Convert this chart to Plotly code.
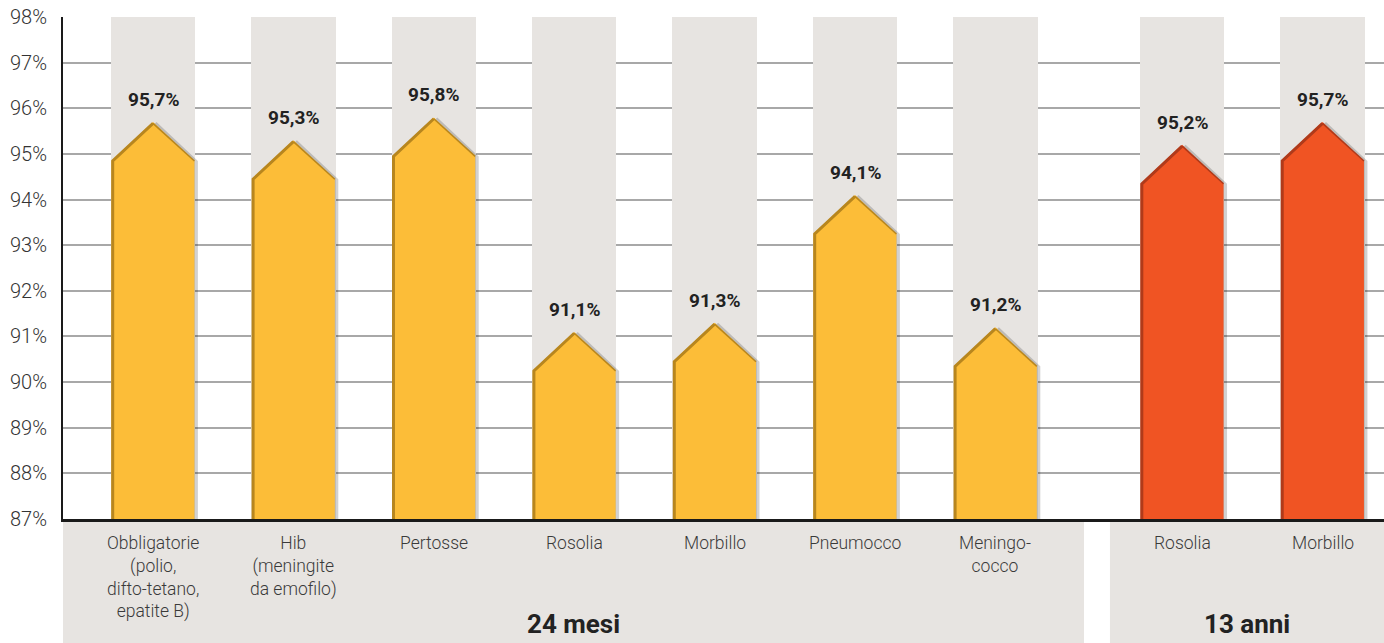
import plotly.graph_objects as go

# ---- data ----
categories = ["Obbligatorie<br>(polio,<br>difto-tetano,<br>epatite B)",
              "Hib<br>(meningite<br>da emofilo)",
              "Pertosse", "Rosolia", "Morbillo", "Pneumocco",
              "Meningo-<br>cocco",
              "Rosolia", "Morbillo"]
values = [95.7, 95.3, 95.8, 91.1, 91.3, 94.1, 91.2, 95.2, 95.7]
groups = ["24 mesi"] * 7 + ["13 anni"] * 2
group_names = ["24 mesi", "13 anni"]
y_ticks = list(range(87, 99))

# ---- style / layout constants ----
W, H = 1384, 643
ML, MR, MT, MB = 63, 0, 17, 124
Y0, Y1 = 87, 98
PX_PER_X = 140.4
X_LEFT = -0.641
GROUP_GAP = 0.33
BAR_W = 0.59
ROOF_PX = 39
plot_h = H - MT - MB
plot_w = W - ML - MR
x_range = [X_LEFT, X_LEFT + plot_w / PX_PER_X]
roof = ROOF_PX * (Y1 - Y0) / plot_h
shadow_dx = 3.5 / PX_PER_X

colors = {"24 mesi": "#FCBD38", "13 anni": "#F05423"}
edge_colors = {"24 mesi": "#B8861E", "13 anni": "#B03A1A"}

x_pos = [i + (GROUP_GAP if g == "13 anni" else 0) for i, g in enumerate(groups)]
labels = [f"{v:.1f}%".replace(".", ",") for v in values]

fig = go.Figure()

# grey background columns
fig.add_trace(go.Bar(x=x_pos, y=[Y1 - Y0] * len(x_pos), base=Y0, width=BAR_W + 0.01,
                     marker=dict(color="#E7E4E1", line=dict(width=0)),
                     hoverinfo="skip", showlegend=False))

for x, v, g in zip(x_pos, values, groups):
    l, r = x - BAR_W / 2, x + BAR_W / 2
    sh = v - roof
    # shadow
    fig.add_trace(go.Scatter(
        x=[l + shadow_dx, l + shadow_dx, x + shadow_dx, r + shadow_dx, r + shadow_dx, l + shadow_dx],
        y=[Y0, sh, v, sh, Y0, Y0], mode="lines", fill="toself",
        fillcolor="rgba(0,0,0,0.18)", line=dict(width=0),
        hoverinfo="skip", showlegend=False))
    # body
    fig.add_trace(go.Scatter(
        x=[l, l, x, r, r, l], y=[Y0, sh, v, sh, Y0, Y0], mode="lines", fill="toself",
        fillcolor=colors[g], line=dict(width=0), hoverinfo="skip", showlegend=False))
    # dark edges (3D look)
    fig.add_trace(go.Scatter(
        x=[l + 0.008, l + 0.008, x], y=[Y0, sh, v - 0.03], mode="lines",
        line=dict(color=edge_colors[g], width=3), hoverinfo="skip", showlegend=False))
    fig.add_trace(go.Scatter(
        x=[x, r], y=[v - 0.03, sh], mode="lines",
        line=dict(color=edge_colors[g], width=1.5), hoverinfo="skip", showlegend=False))

# value labels
for x, v, t in zip(x_pos, values, labels):
    fig.add_annotation(x=x, y=v, text=f"<b>{t}</b>", showarrow=False, yanchor="bottom",
                       yshift=9, font=dict(family="Roboto", size=19, color="#222222"))

# bottom grey panels
for gname in group_names:
    xs = [x for x, g in zip(x_pos, groups) if g == gname]
    if gname == group_names[0]:
        a, b = x_range[0], xs[-1] + 0.631
    else:
        a, b = xs[0] - 0.514, x_range[1]
    fig.add_shape(type="rect", xref="x", yref="paper", x0=a, x1=b,
                  y0=-MB / plot_h, y1=0, fillcolor="#E7E4E1", line=dict(width=0), layer="below")
    fig.add_annotation(x=(a + b) / 2, xref="x", y=0, yref="paper", text=f"<b>{gname}</b>",
                       showarrow=False, yanchor="middle", yshift=-105,
                       font=dict(family="Roboto", size=26, color="#222222"))

# category labels
for x, c in zip(x_pos, categories):
    fig.add_annotation(x=x, xref="x", y=0, yref="paper", text=c, showarrow=False,
                       yanchor="top", yshift=-12, align="center",
                       font=dict(family="Roboto", size=17.5, color="#3A3A3A", weight=300))

fig.update_layout(
    width=W, height=H, margin=dict(l=ML, r=MR, t=MT, b=MB, autoexpand=False),
    plot_bgcolor="white", paper_bgcolor="white", bargap=0,
    xaxis=dict(range=x_range, showticklabels=False, showgrid=False, zeroline=False,
               showline=True, linecolor="#1A1A1A", linewidth=3, fixedrange=True,
               automargin=False),
    yaxis=dict(range=[Y0, Y1], tickvals=y_ticks, ticktext=[f"{t}%" for t in y_ticks],
               showgrid=True, gridcolor="#A8A8A8", gridwidth=2, zeroline=False,
               showline=True, linecolor="#1A1A1A", linewidth=2, ticks="",
               ticklabelstandoff=10, automargin=False, fixedrange=True,
               tickfont=dict(family="Roboto", size=20, color="#333333", weight=300)),
    showlegend=False,
)

fig.write_html("out.html", config={"displayModeBar": False},
               post_script="document.body.style.margin='0';document.body.style.padding='0';")
